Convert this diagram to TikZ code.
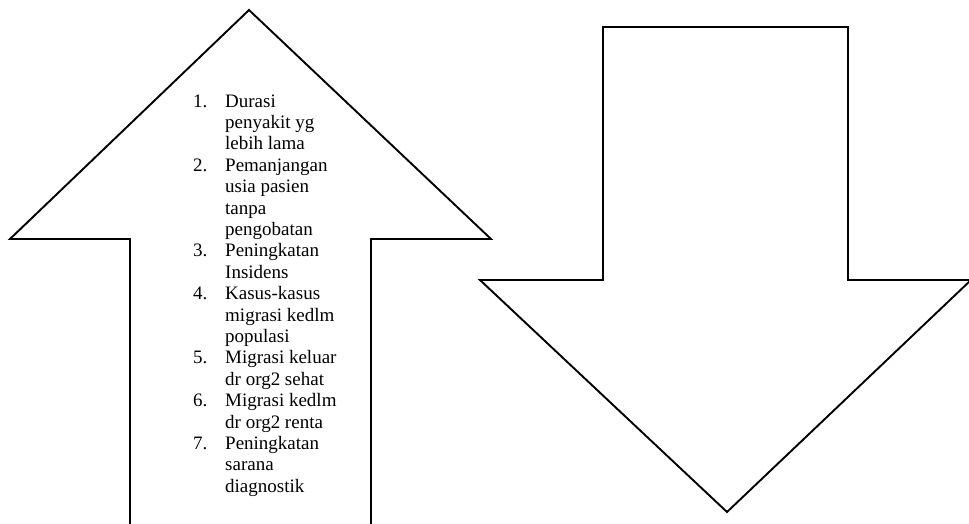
\documentclass[tikz,border=0pt]{standalone}
\usepackage{fontspec}
\setmainfont{Liberation Serif}
\tikzset{
  panah/.style={draw, line width=1.9pt, line join=miter, fill=white},
  daftar/.style={inner sep=0pt, anchor=base west, font=\fontsize{19}{21.4}\selectfont}
}
\begin{document}
\begin{tikzpicture}[x=1pt, y=-1pt]
    \useasboundingbox (0,0) rectangle (969,523);
    \clip (0,0) rectangle (969,523);
    % Panah naik
    \begin{scope}[shift={(0,0)}]
        \draw[panah] (249,10) -- (491,239) -- (371,239) -- (371,540)
            -- (130,540) -- (130,239) -- (10,239) -- cycle;
        \node[daftar] (isi) at (193,107) {%
            \begin{tabular}[t]{@{}p{32pt}@{}l@{}}
            1. & Durasi\\
               & penyakit yg\\
               & lebih lama\\
            2. & Pemanjangan\\
               & usia pasien\\
               & tanpa\\
               & pengobatan\\
            3. & Peningkatan\\
               & Insidens\\
            4. & Kasus-kasus\\
               & migrasi kedlm\\
               & populasi\\
            5. & Migrasi keluar\\
               & dr org2 sehat\\
            6. & Migrasi kedlm\\
               & dr org2 renta\\
            7. & Peningkatan\\
               & sarana\\
               & diagnostik
            \end{tabular}};
    \end{scope}

    % Panah turun
    \begin{scope}[shift={(0,0)}]
        \draw[panah] (603,27) -- (848,27) -- (848,280) -- (971,280)
            -- (727,512) -- (480,280) -- (603,280) -- cycle;
    \end{scope}
\end{tikzpicture}
\end{document}
